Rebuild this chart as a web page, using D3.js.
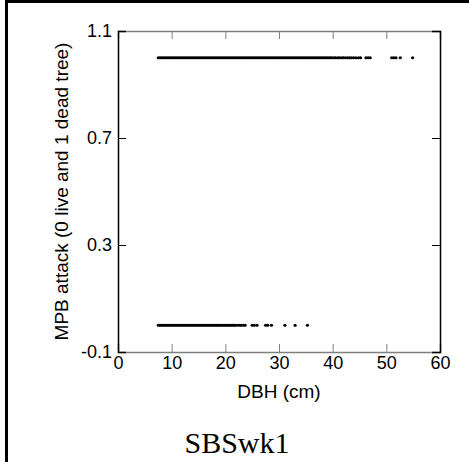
<!DOCTYPE html>
<html>
<head>
<meta charset="utf-8">
<script src="https://cdn.jsdelivr.net/npm/d3@7"></script>
<style>
  body { margin: 0; background: #fff; }
  svg { display: block; }
</style>
</head>
<body>
<div id="chart"></div>
<script>
var WIDTH = 469, HEIGHT = 462;

// DBH (cm) of dead trees (MPB attack = 1)
var deadDBH = [7.5, 7.8, 8.1, 8.4, 8.7, 9.0, 9.3, 9.6, 9.9, 10.2, 10.5, 10.8, 11.1, 11.4, 11.7,
  12.0, 12.3, 12.6, 12.9, 13.2, 13.5, 13.8, 14.1, 14.4, 14.7, 15.0, 15.3, 15.6, 15.9, 16.2,
  16.5, 16.8, 17.1, 17.4, 17.7, 18.0, 18.3, 18.6, 18.9, 19.2, 19.5, 19.8, 20.1, 20.4, 20.7,
  21.0, 21.3, 21.6, 21.9, 22.2, 22.5, 22.8, 23.1, 23.4, 23.7, 24.0, 24.3, 24.6, 24.9, 25.2,
  25.5, 25.8, 26.1, 26.4, 26.7, 27.0, 27.3, 27.6, 27.9, 28.2, 28.5, 28.8, 29.1, 29.4, 29.7,
  30.0, 30.3, 30.6, 30.9, 31.2, 31.5, 31.8, 32.1, 32.4, 32.7, 33.0, 33.3, 33.6, 33.9, 34.2,
  34.5, 34.8, 35.1, 35.4, 35.7, 36.0, 36.3, 36.6, 36.9, 37.2, 37.5, 37.8, 38.1, 38.4, 38.7,
  39.0, 39.3, 39.6, 39.9, 40.3, 40.6, 41.0, 41.3, 41.7, 42.0, 42.4, 42.8, 43.1, 43.5, 43.9,
  44.3, 44.8, 45.2, 46.2, 46.6, 47.0, 51.0, 51.4, 51.8, 52.6, 54.9];

// DBH (cm) of live trees (MPB attack = 0)
var liveDBH = [7.5, 7.8, 8.1, 8.4, 8.7, 9.0, 9.3, 9.6, 9.9, 10.2, 10.5, 10.8, 11.1, 11.4, 11.7,
  12.0, 12.3, 12.6, 12.9, 13.2, 13.5, 13.8, 14.1, 14.4, 14.7, 15.0, 15.3, 15.6, 15.9, 16.2,
  16.5, 16.8, 17.1, 17.4, 17.7, 18.0, 18.3, 18.6, 18.9, 19.2, 19.5, 19.8, 20.1, 20.4, 20.7,
  21.0, 21.3, 21.6, 21.9, 22.3, 22.7, 23.0, 23.4, 23.7, 25.0, 25.4, 25.9, 27.5, 27.9, 28.6,
  31.1, 33.0, 35.3];

var xTicks = [0, 10, 20, 30, 40, 50, 60];
var yTicks = [-0.1, 0.3, 0.7, 1.1];
var yTickLabels = ["-0.1", "0.3", "0.7", "1.1"];

var margin = {top: 31, right: 29, bottom: 110, left: 118};
var w = WIDTH - margin.left - margin.right;
var h = HEIGHT - margin.top - margin.bottom;

var svg = d3.select("#chart").append("svg")
  .attr("width", WIDTH)
  .attr("height", HEIGHT);

// outer page frame
svg.append("rect")
  .attr("x", 6.5).attr("y", 1.5)
  .attr("width", 600).attr("height", 600)
  .attr("fill", "none")
  .attr("stroke", "#000")
  .attr("stroke-width", 3);

var g = svg.append("g")
  .attr("transform", "translate(" + margin.left + "," + margin.top + ")");

var x = d3.scaleLinear().domain([0, 60]).range([0, w]);
var y = d3.scaleLinear().domain([-0.1, 1.1]).range([h, 0]);

var font = "'Liberation Sans', Arial, sans-serif";

// bottom axis (ticks point inward)
var xAxis = g.append("g")
  .attr("transform", "translate(0," + h + ")")
  .call(d3.axisBottom(x).tickValues(xTicks).tickSize(-8).tickPadding(4).tickFormat(d3.format("d")));
xAxis.select(".domain").attr("stroke", "#808080").attr("stroke-width", 1.5);
xAxis.selectAll(".tick line").attr("stroke", "#808080");
xAxis.selectAll("text").style("font-family", font).style("font-size", "18px").attr("fill", "#000");

// top axis, ticks only
var xTop = g.append("g")
  .call(d3.axisTop(x).tickValues(xTicks).tickSize(-8).tickFormat(""));
xTop.select(".domain").attr("stroke", "#808080").attr("stroke-width", 1.5);
xTop.selectAll(".tick line").attr("stroke", "#808080");

// left axis
var yAxis = g.append("g")
  .call(d3.axisLeft(y).tickValues(yTicks).tickSize(-8).tickPadding(6)
    .tickFormat(function(d, i) { return yTickLabels[i]; }));
yAxis.select(".domain").attr("stroke", "#000").attr("stroke-width", 1.5);
yAxis.selectAll(".tick line").attr("stroke", "#000");
yAxis.selectAll("text").style("font-family", font).style("font-size", "18px").attr("fill", "#000");

// right axis, ticks only
var yRight = g.append("g")
  .attr("transform", "translate(" + w + ",0)")
  .call(d3.axisRight(y).tickValues(yTicks).tickSize(-8).tickFormat(""));
yRight.select(".domain").attr("stroke", "#000").attr("stroke-width", 1.5);
yRight.selectAll(".tick line").attr("stroke", "#000");

// points
g.append("g").selectAll("circle.dead")
  .data(deadDBH)
  .enter().append("circle")
  .attr("class", "dead")
  .attr("cx", function(d) { return x(d); })
  .attr("cy", y(1))
  .attr("r", 1.6)
  .attr("fill", "#000");

g.append("g").selectAll("circle.live")
  .data(liveDBH)
  .enter().append("circle")
  .attr("class", "live")
  .attr("cx", function(d) { return x(d); })
  .attr("cy", y(0))
  .attr("r", 1.6)
  .attr("fill", "#000");

// axis titles
svg.append("text")
  .attr("x", margin.left + w / 2)
  .attr("y", 398)
  .attr("text-anchor", "middle")
  .style("font-family", font)
  .style("font-size", "19px")
  .text("DBH (cm)");

svg.append("text")
  .attr("transform", "rotate(-90)")
  .attr("x", -(margin.top + h / 2))
  .attr("y", 68)
  .attr("text-anchor", "middle")
  .style("font-family", font)
  .style("font-size", "19px")
  .text("MPB attack (0 live and 1 dead tree)");

svg.append("text")
  .attr("x", 237)
  .attr("y", 453)
  .attr("text-anchor", "middle")
  .style("font-family", "'Liberation Serif', 'Times New Roman', serif")
  .style("font-size", "30px")
  .text("SBSwk1");
</script>
</body>
</html>
